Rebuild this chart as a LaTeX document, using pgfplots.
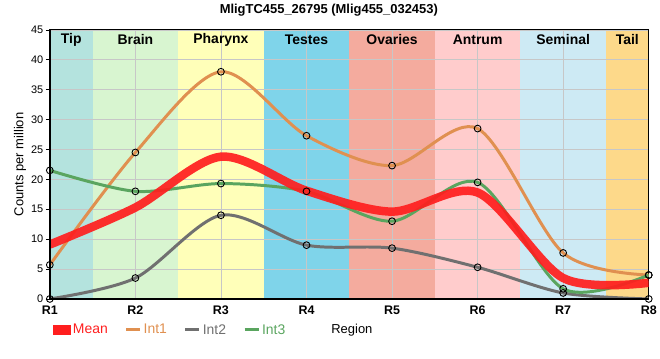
\documentclass[border=0pt]{standalone}
\usepackage{pgfplots}
\pgfplotsset{compat=1.18}
\usepackage{fontspec}
\setmainfont{Liberation Sans}
\definecolor{cTip}{RGB}{180,227,222}
\definecolor{cBrain}{RGB}{216,245,208}
\definecolor{cPhar}{RGB}{255,255,185}
\definecolor{cTest}{RGB}{127,212,234}
\definecolor{cOva}{RGB}{244,171,158}
\definecolor{cAnt}{RGB}{255,204,204}
\definecolor{cSem}{RGB}{205,234,244}
\definecolor{cTail}{RGB}{253,217,138}
\definecolor{cMean}{RGB}{255,30,30}
\definecolor{cInt1}{RGB}{224,144,80}
\definecolor{cInt2}{RGB}{112,112,112}
\definecolor{cInt3}{RGB}{90,165,95}
\begin{document}
\begin{tikzpicture}
\path (0pt,0pt) rectangle (660pt,360pt);
\begin{axis}[
  set layers,
  at={(50pt,60pt)}, anchor=south west,
  scale only axis, width=601pt, height=270pt,
  xmin=1, xmax=8, ymin=0, ymax=45,
  xtick={1,...,8}, xticklabels={R1,R2,R3,R4,R5,R6,R7,R8},
  ytick={0,5,...,45},
  grid=major, grid style={color=black!22, line width=0.7pt},
  tick align=outside, major tick length=4pt,
  xtick style={draw=none},
  ytick style={black, line width=0.7pt},
  tick pos=left,
  axis line style={black, line width=1pt},
  /pgf/number format/assume math mode=true,
  yticklabel style={font=\fontsize{11}{13}\selectfont, xshift=1pt},
  xticklabel style={font=\fontsize{12.5}{14}\selectfont\bfseries, yshift=1pt},
  legend style={at={(0.0,-0.115)}, anchor=west, draw=none, fill=none,
    font=\fontsize{14}{16}\selectfont, legend columns=4,
    /tikz/every even column/.append style={column sep=15pt}},
  legend cell align=left,
  mark layer=axis foreground,
]
\begin{pgfonlayer}{axis background}
\fill[cTip] (axis cs:1,0) rectangle (axis cs:1.5,45);
\fill[cBrain] (axis cs:1.5,0) rectangle (axis cs:2.5,45);
\fill[cPhar] (axis cs:2.5,0) rectangle (axis cs:3.5,45);
\fill[cTest] (axis cs:3.5,0) rectangle (axis cs:4.5,45);
\fill[cOva] (axis cs:4.5,0) rectangle (axis cs:5.5,45);
\fill[cAnt] (axis cs:5.5,0) rectangle (axis cs:6.5,45);
\fill[cSem] (axis cs:6.5,0) rectangle (axis cs:7.5,45);
\fill[cTail] (axis cs:7.5,0) rectangle (axis cs:8,45);
\end{pgfonlayer}

\addlegendimage{legend image code/.code={\fill[cMean] (0pt,-3.5pt) rectangle (15pt,3.5pt);}}
\addlegendentry{\textcolor{cMean}{Mean}}
\addlegendimage{legend image code/.code={\draw[cInt1, line width=3pt] (0pt,0pt) -- (14pt,0pt);}}
\addlegendentry{\textcolor{cInt1}{Int1}}
\addlegendimage{legend image code/.code={\draw[cInt2, line width=3pt] (0pt,0pt) -- (14pt,0pt);}}
\addlegendentry{\textcolor{cInt2}{Int2}}
\addlegendimage{legend image code/.code={\draw[cInt3, line width=3pt] (0pt,0pt) -- (14pt,0pt);}}
\addlegendentry{\textcolor{cInt3}{Int3}}

\pgfplotsset{every axis plot/.append style={smooth, tension=0.5, line width=3pt,
  mark=o, mark size=3.4pt, mark options={solid, draw=black, fill=none, line width=0.9pt}}}
\addplot[cInt1, forget plot] coordinates {(1,5.7) (2,24.5) (3,38) (4,27.3) (5,22.3) (6,28.5) (7,7.7) (8,4)};
\addplot[cInt2, forget plot] coordinates {(1,0) (2,3.5) (3,14) (4,9) (5,8.5) (6,5.3) (7,1) (8,0)};
\addplot[cInt3, forget plot] coordinates {(1,21.5) (2,18) (3,19.3) (4,18) (5,13) (6,19.5) (7,1.7) (8,4)};
\addplot[cMean, opacity=0.92, line width=8.5pt, mark=none, forget plot] coordinates {(1,9.1) (2,15.3) (3,23.8) (4,18.1) (5,14.6) (6,17.8) (7,3.5) (8,2.7)};

\begin{scope}[font=\fontsize{14}{16}\selectfont\bfseries]
\node at (axis cs:1.25,43.4) {Tip};
\node at (axis cs:2,43.4) {Brain};
\node at (axis cs:3,43.4) {Pharynx};
\node at (axis cs:4,43.4) {Testes};
\node at (axis cs:5,43.4) {Ovaries};
\node at (axis cs:6,43.4) {Antrum};
\node at (axis cs:7,43.4) {Seminal};
\node at (axis cs:7.75,43.4) {Tail};
\end{scope}
\end{axis}
\draw[black, line width=2.5pt] (50pt,330pt) -- (50pt,60pt) -- (651pt,60pt);
\node[font=\fontsize{13}{15}\selectfont\bfseries] at (330pt,350pt) {MligTC455\_26795 (Mlig455\_032453)};
\node[font=\fontsize{13}{15}\selectfont, rotate=90] at (20pt,195pt) {Counts per million};
\node[font=\fontsize{13}{15}\selectfont, anchor=west] at (329pt,29pt) {Region};
\end{tikzpicture}
\end{document}
